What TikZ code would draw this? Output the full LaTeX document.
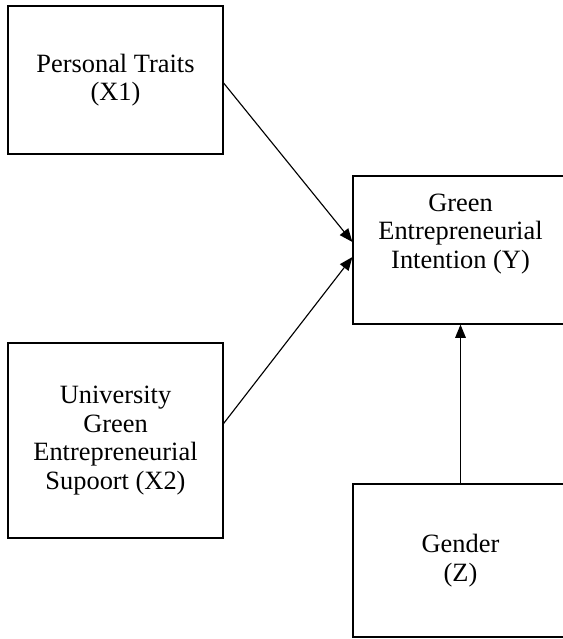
\documentclass[tikz,border=0pt]{standalone}
\usepackage{fontspec}
\setmainfont{Liberation Serif}
\usetikzlibrary{arrows.meta}
\begin{document}
\begin{tikzpicture}[x=0.75pt,y=-0.75pt,
  box/.style={draw,line width=0.9pt,minimum width=161.25pt,inner sep=0pt,align=center,
    font=\fontsize{19.8pt}{21.4pt}\selectfont},
  lbl/.style={inner sep=0pt,align=center,font=\fontsize{19.8pt}{21.4pt}\selectfont},
  arr/.style={line width=0.85pt,-{Triangle[length=10pt,width=8pt]}}]
\useasboundingbox (0,0) rectangle (563,639);
\node[box,minimum height=111pt] (X1) at (115.5,80) {Personal Traits\\(X1)};
\node[box,minimum height=146.25pt] (X2) at (115.5,440.5) {University\\Green\\Entrepreneurial\\Supoort (X2)};
\node[box,minimum height=111pt] (Y) at (460.5,250) {};
\node[lbl] (Ylbl) at (460.5,234) {Green\\Entrepreneurial\\Intention (Y)};
\node[box,minimum height=114.75pt] (Z) at (460.5,560.5) {Gender\\(Z)};
\draw[arr] ([yshift=-2.25pt]X1.east) -- ([yshift=6pt]Y.west);
\draw[arr] ([yshift=12.75pt]X2.east) -- ([yshift=-5.25pt]Y.west);
\draw[arr] (Z.north) -- (Y.south);
\end{tikzpicture}
\end{document}
